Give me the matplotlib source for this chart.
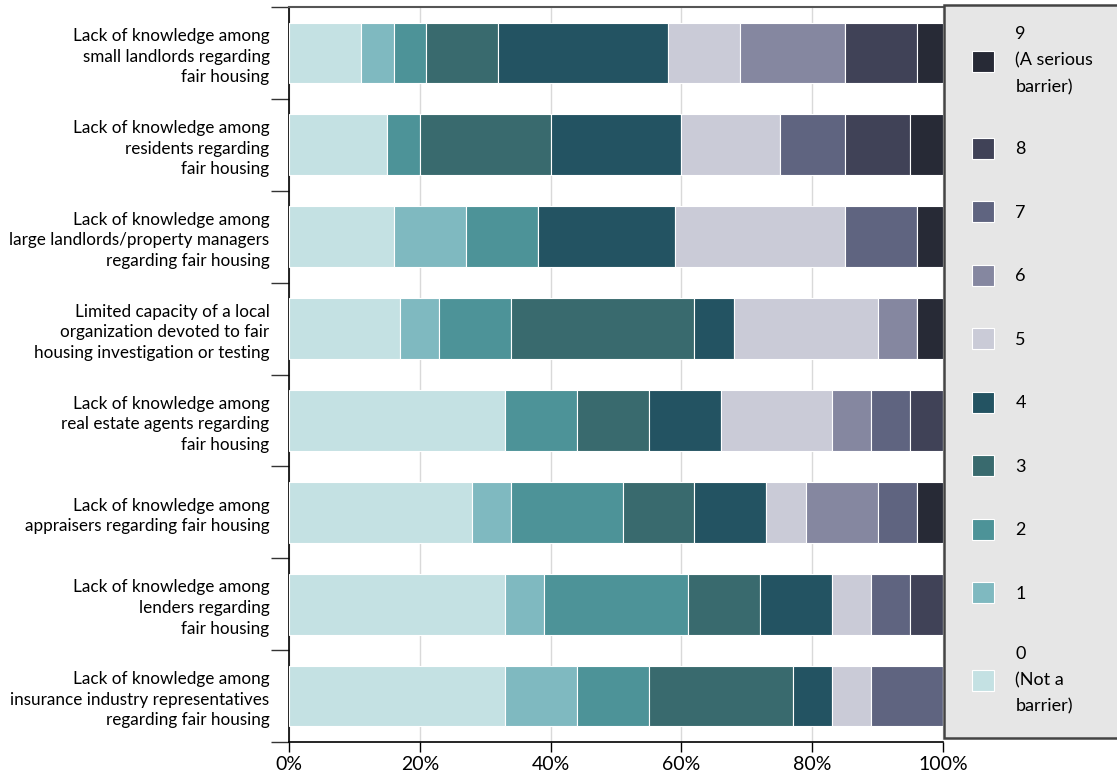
import numpy as np
import matplotlib
matplotlib.use("Agg")
import matplotlib.pyplot as plt
from matplotlib.patches import Patch, Rectangle

plt.rcParams['font.family'] = ['Lato', 'DejaVu Sans']

# barrier categories, top to bottom
categories = [
    "Lack of knowledge among\nsmall landlords regarding\nfair housing",
    "Lack of knowledge among\nresidents regarding\nfair housing",
    "Lack of knowledge among\nlarge landlords/property managers\nregarding fair housing",
    "Limited capacity of a local\norganization devoted to fair\nhousing investigation or testing",
    "Lack of knowledge among\nreal estate agents regarding\nfair housing",
    "Lack of knowledge among\nappraisers regarding fair housing",
    "Lack of knowledge among\nlenders regarding\nfair housing",
    "Lack of knowledge among\ninsurance industry representatives\nregarding fair housing",
]

# share of responses (%) for each rating 0..9, one list per rating
score_0 = [11, 15, 16, 17, 33, 28, 33, 33]
score_1 = [5, 0, 11, 6, 0, 6, 6, 11]
score_2 = [5, 5, 11, 11, 11, 17, 22, 11]
score_3 = [11, 20, 0, 28, 11, 11, 11, 22]
score_4 = [26, 20, 21, 6, 11, 11, 11, 6]
score_5 = [11, 15, 26, 22, 17, 6, 6, 6]
score_6 = [16, 0, 0, 6, 6, 11, 0, 0]
score_7 = [0, 10, 11, 0, 6, 6, 6, 11]
score_8 = [11, 10, 0, 0, 5, 0, 5, 0]
score_9 = [4, 5, 4, 4, 0, 4, 0, 0]

scores = [score_0, score_1, score_2, score_3, score_4,
          score_5, score_6, score_7, score_8, score_9]
score_labels = ["0\n(Not a\nbarrier)", "1", "2", "3", "4", "5", "6", "7", "8",
                "9\n(A serious\nbarrier)"]
colors = ["#c4e1e3", "#7fb9c0", "#4d9398", "#396a6e", "#235362",
          "#cacbd7", "#8587a0", "#5f6480", "#404257", "#272a36"]

fig = plt.figure(figsize=(11.17, 7.74), dpi=100)
ax = fig.add_axes([289 / 1117, 32 / 774, 654 / 1117, 735 / 774])

y = np.arange(len(categories))
left = np.zeros(len(categories))
for vals, col in zip(scores, colors):
    vals = np.array(vals, dtype=float)
    ax.barh(y, vals, left=left, height=0.66, color=col,
            edgecolor="white", linewidth=0.8, zorder=3)
    left += vals

ax.set_xlim(0, 100)
ax.set_ylim(len(categories) - 0.5, -0.5)
ax.set_xticks(np.arange(0, 101, 20))
ax.set_xticklabels([f"{v}%" for v in range(0, 101, 20)], fontsize=14)
ax.xaxis.grid(True, color="#d9d9d9", linewidth=1, zorder=0)
ax.tick_params(axis="x", length=7, width=1, color="black", pad=3)

# category labels on major ticks, separators on minor ticks
ax.set_yticks(y)
ax.set_yticklabels(categories, fontsize=12.3, linespacing=1.35)
ax.set_yticks(np.arange(-0.5, len(categories) - 0.4, 1), minor=True)
ax.tick_params(axis="y", which="major", length=0, pad=14)
ax.tick_params(axis="y", which="minor", length=13, width=1, color="#333333")

for side in ["left", "bottom"]:
    ax.spines[side].set_color("black")
    ax.spines[side].set_linewidth(1.2)
ax.spines["top"].set_color("#555555")
ax.spines["top"].set_linewidth(1.5)
ax.spines["right"].set_visible(False)

# grey legend panel
fig.patches.append(Rectangle((944 / 1117, 36 / 774), 200 / 1117, 733 / 774,
                             transform=fig.transFigure, facecolor="#e6e6e6",
                             edgecolor="#444444", linewidth=1.8, zorder=0))

handles = [Patch(facecolor=c, edgecolor="white", linewidth=0.8) for c in colors]
leg = fig.legend(handles[::-1], score_labels[::-1], loc="upper left",
                 bbox_to_anchor=(972 / 1117, 1 - 26 / 774), frameon=False,
                 fontsize=13, handlelength=1.2, handleheight=1.4,
                 handletextpad=1.2, labelspacing=2.36, borderpad=0,
                 borderaxespad=0)
for t in leg.get_texts():
    t.set_linespacing(1.8)

fig.savefig("out.png", dpi=100)
